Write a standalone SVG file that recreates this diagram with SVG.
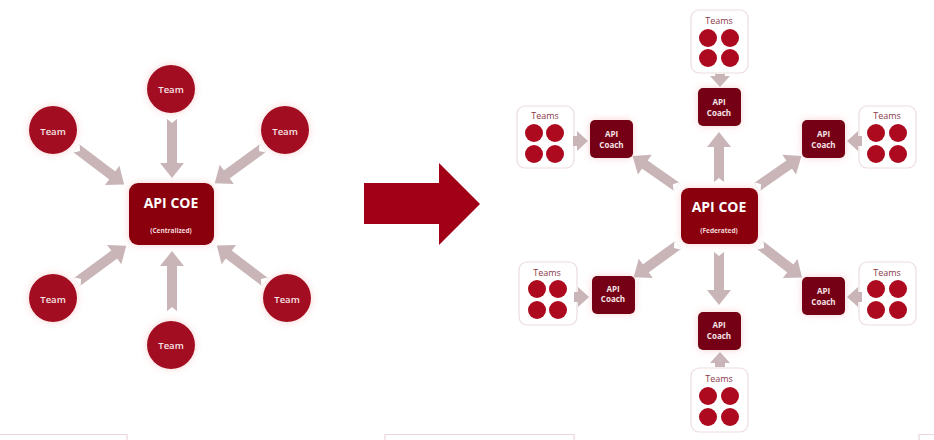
<svg xmlns="http://www.w3.org/2000/svg" width="934" height="440" viewBox="0 0 934 440">
<style>
text{font-family:"Open Sans","Liberation Sans",sans-serif;fill:#fff;text-anchor:middle}
.team circle{fill:#a30e20;filter:url(#glow)}
.team text{font-size:9.500px;font-weight:600;fill:#f6e4e6}
.coe rect{fill:#8a0010;filter:url(#glow)}
.coe .t{font-size:14px;font-weight:700}
.coe .s{font-size:6.500px;font-weight:700;fill:#f3d8da}
.coach rect{fill:#740312;filter:url(#glow)}
.coach text{font-size:8px;font-weight:700;fill:#f6e4e6}
.box rect{fill:#fff;stroke:#ecdcde;stroke-width:1.200}
.box circle{fill:#ad0a1f}
.box text{font-size:9px;fill:#8a3a48}
.c line{stroke:#c9b5b8;stroke-width:10;fill:none}
.l{marker-end:url(#head);marker-start:url(#notch)}
.m{marker-end:url(#smallhead)}
.frag{fill:none;stroke:#ead6d9;stroke-width:1.200}
</style>
<defs>
<filter id="glow" x="-40%" y="-40%" width="180%" height="180%"><feGaussianBlur in="SourceAlpha" stdDeviation="3.500" result="b"/><feFlood flood-color="#e8606a" flood-opacity=".3"/><feComposite in2="b" operator="in" result="g"/><feMerge><feMergeNode in="g"/><feMergeNode in="SourceGraphic"/></feMerge></filter>
<marker id="head" markerUnits="userSpaceOnUse" markerWidth="16" markerHeight="26" refX="1" refY="12" orient="auto" overflow="visible"><path d="M0 0L15 12L0 24Z" fill="#c9b5b8"/></marker>
<marker id="notch" markerUnits="userSpaceOnUse" markerWidth="8" markerHeight="12" refX="0" refY="6" orient="auto" overflow="visible"><path d="M0 0L5 6L0 12Z" fill="#fff"/></marker>
<marker id="smallhead" markerUnits="userSpaceOnUse" markerWidth="12" markerHeight="22" refX="1" refY="10" orient="auto" overflow="visible"><path d="M0 0L11 10L0 20Z" fill="#c9b5b8"/></marker>
</defs>
<rect width="934" height="440" fill="#fff"/>
<g id="team-top" class="team"><circle cx="171" cy="89" r="24"/><text x="171" y="93">Team</text></g>
<g id="team-tl" class="team"><circle cx="53" cy="130" r="24"/><text x="53" y="135">Team</text></g>
<g id="team-tr" class="team"><circle cx="285" cy="130" r="24"/><text x="285" y="135">Team</text></g>
<g id="team-bl" class="team"><circle cx="53" cy="298" r="24"/><text x="53" y="303">Team</text></g>
<g id="team-br" class="team"><circle cx="287" cy="298" r="24"/><text x="287" y="303">Team</text></g>
<g id="team-bottom" class="team"><circle cx="171" cy="345" r="24"/><text x="171" y="349">Team</text></g>
<g id="coe-centralized" class="coe"><rect x="129" y="183" width="85" height="62" rx="9"/><text class="t" x="171" y="208">API COE</text><text class="s" x="171" y="233">(Centralized)</text></g>
<polygon id="transition-arrow" points="364,183 439,183 439,163 480,204 439,245 439,224 364,224" fill="#a20016"/>
<g id="coe-federated" class="coe"><rect x="681" y="188" width="77" height="56" rx="8"/><text class="t" x="719" y="212">API COE</text><text class="s" x="719" y="233">(Federated)</text></g>
<g id="coach-top" class="coach"><rect x="698" y="88" width="43" height="38" rx="5"/><text x="719" y="105">API</text><text x="719" y="116">Coach</text></g>
<g id="coach-l" class="coach"><rect x="590" y="120" width="43" height="38" rx="5"/><text x="611.500" y="137">API</text><text x="611.500" y="148">Coach</text></g>
<g id="coach-r" class="coach"><rect x="802" y="120" width="43" height="38" rx="5"/><text x="823.500" y="137">API</text><text x="823.500" y="148">Coach</text></g>
<g id="coach-bl" class="coach"><rect x="592" y="276" width="43" height="38" rx="5"/><text x="613" y="292">API</text><text x="613" y="302">Coach</text></g>
<g id="coach-br" class="coach"><rect x="802" y="277" width="43" height="38" rx="5"/><text x="823.500" y="294">API</text><text x="823.500" y="305">Coach</text></g>
<g id="coach-bottom" class="coach"><rect x="698" y="312" width="43" height="38" rx="5"/><text x="719" y="328">API</text><text x="719" y="339">Coach</text></g>
<g id="teams-top" class="box"><rect x="691" y="10" width="57" height="63" rx="8"/><text x="719" y="24">Teams</text><circle cx="708" cy="38" r="9"/><circle cx="730" cy="38" r="9"/><circle cx="708" cy="58" r="9"/><circle cx="730" cy="58" r="9"/></g>
<g id="teams-l" class="box"><rect x="517" y="106" width="57" height="62" rx="8"/><text x="545" y="119">Teams</text><circle cx="534" cy="133" r="9"/><circle cx="555" cy="133" r="9"/><circle cx="534" cy="154" r="9"/><circle cx="555" cy="154" r="9"/></g>
<g id="teams-r" class="box"><rect x="859" y="106" width="57" height="62" rx="8"/><text x="887" y="119">Teams</text><circle cx="876" cy="133" r="9"/><circle cx="898" cy="133" r="9"/><circle cx="876" cy="154" r="9"/><circle cx="898" cy="154" r="9"/></g>
<g id="teams-bl" class="box"><rect x="519" y="262" width="58" height="63" rx="8"/><text x="547" y="276">Teams</text><circle cx="537" cy="289" r="9"/><circle cx="558" cy="289" r="9"/><circle cx="537" cy="310" r="9"/><circle cx="558" cy="310" r="9"/></g>
<g id="teams-br" class="box"><rect x="859" y="262" width="57" height="63" rx="8"/><text x="887" y="276">Teams</text><circle cx="876" cy="289" r="9"/><circle cx="898" cy="289" r="9"/><circle cx="876" cy="310" r="9"/><circle cx="898" cy="310" r="9"/></g>
<g id="teams-bottom" class="box"><rect x="691" y="368" width="57" height="64" rx="8"/><text x="719" y="382">Teams</text><circle cx="708" cy="396" r="9"/><circle cx="730" cy="396" r="9"/><circle cx="708" cy="417" r="9"/><circle cx="730" cy="417" r="9"/></g>
<g id="connectors" class="c">
<line class="l" x1="76" y1="148" x2="113" y2="176"/>
<line class="l" x1="172" y1="118" x2="172" y2="164"/>
<line class="l" x1="263" y1="148" x2="226" y2="175"/>
<line class="l" x1="77" y1="282" x2="115" y2="254"/>
<line class="l" x1="172" y1="312" x2="172" y2="265"/>
<line class="l" x1="265" y1="282" x2="228" y2="254"/>
<line class="l" x1="719" y1="183" x2="719" y2="146"/>
<line class="l" x1="677" y1="187" x2="644" y2="164"/>
<line class="l" x1="757" y1="187" x2="790" y2="164"/>
<line class="l" x1="678" y1="245" x2="645" y2="269"/>
<line class="l" x1="760" y1="245" x2="791" y2="269"/>
<line class="l" x1="719" y1="251" x2="719" y2="291"/>
<line class="m" x1="720" y1="74" x2="720" y2="77"/>
<line class="m" x1="573" y1="141" x2="578" y2="141"/>
<line class="m" x1="862" y1="141" x2="857" y2="141"/>
<line class="m" x1="574" y1="297" x2="579" y2="297"/>
<line class="m" x1="862" y1="297" x2="857" y2="297"/>
<line class="m" x1="720" y1="367" x2="720" y2="362"/>
</g>
<path class="frag" d="M0 434.500H127V441M385 441V434.500H574V441M934 434.500H919V441"/>
</svg>
